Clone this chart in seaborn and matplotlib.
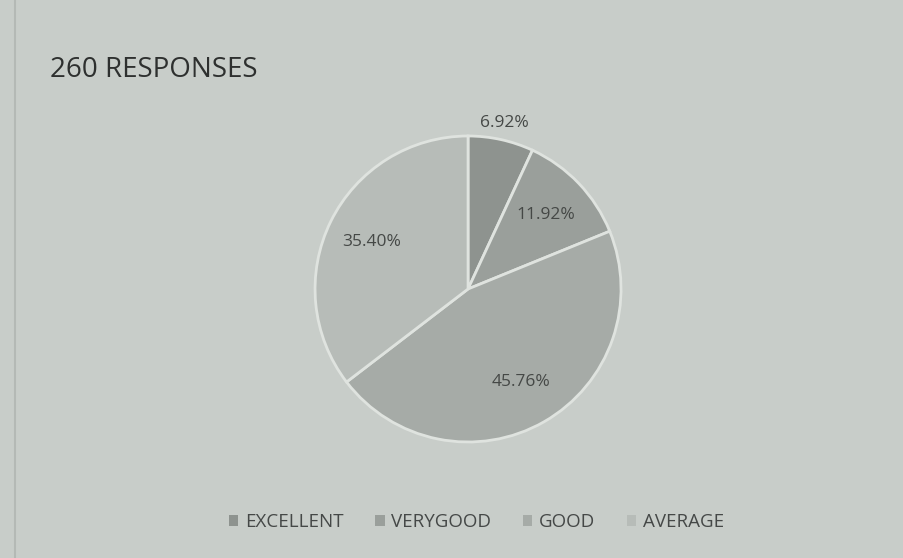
import matplotlib
matplotlib.use("Agg")
import matplotlib.pyplot as plt
from matplotlib.patches import Patch
import seaborn as sns

categories = ["EXCELLENT", "VERYGOOD", "GOOD", "AVERAGE"]
shares = [6.92, 11.92, 45.76, 35.40]
title = "260 RESPONSES"

bg = "#c8cdc9"
colors = ["#8e938f", "#9a9f9b", "#a6aba7", "#b7bcb8"]

sns.set_theme(style="white")
plt.rcParams['font.family'] = ['Open Sans', 'DejaVu Sans']

fig = plt.figure(figsize=(9.04, 5.58), dpi=100, facecolor=bg)
ax = fig.add_axes([0.3485, 0.2079, 0.3385, 0.5484])
ax.set_facecolor(bg)

wedges, texts, pcts = ax.pie(shares, colors=colors, startangle=90, counterclock=False,
                             autopct='%.2f%%', pctdistance=0.70,
                             wedgeprops={'edgecolor': '#dfe3df', 'linewidth': 2},
                             textprops={'fontsize': 12.5, 'color': '#454846'})
ax.set_xlim(-1, 1)
ax.set_ylim(-1, 1)
ax.set_aspect('equal')
ax.axis('off')

# smallest slice gets its label outside, like the original
x, y = pcts[0].get_position()
pcts[0].set_position((x * 1.11 / 0.70, y * 1.11 / 0.70))

fig.text(0.055, 0.875, title, fontsize=20, color='#2e302f', ha='left', va='center')

handles = [Patch(facecolor=c, edgecolor='none') for c in colors]
leg = fig.legend(handles, categories, loc='center', bbox_to_anchor=(0.527, 0.064), ncol=4,
                 frameon=False, fontsize=13.5, handlelength=0.5, handleheight=0.5,
                 handletextpad=0.35, columnspacing=1.7, labelcolor='#454847')

fig.add_artist(plt.Line2D([0.017, 0.017], [0.0, 1.0], color='#b4b9b5', lw=1.5))

fig.savefig("out.png", dpi=100, facecolor=bg)
